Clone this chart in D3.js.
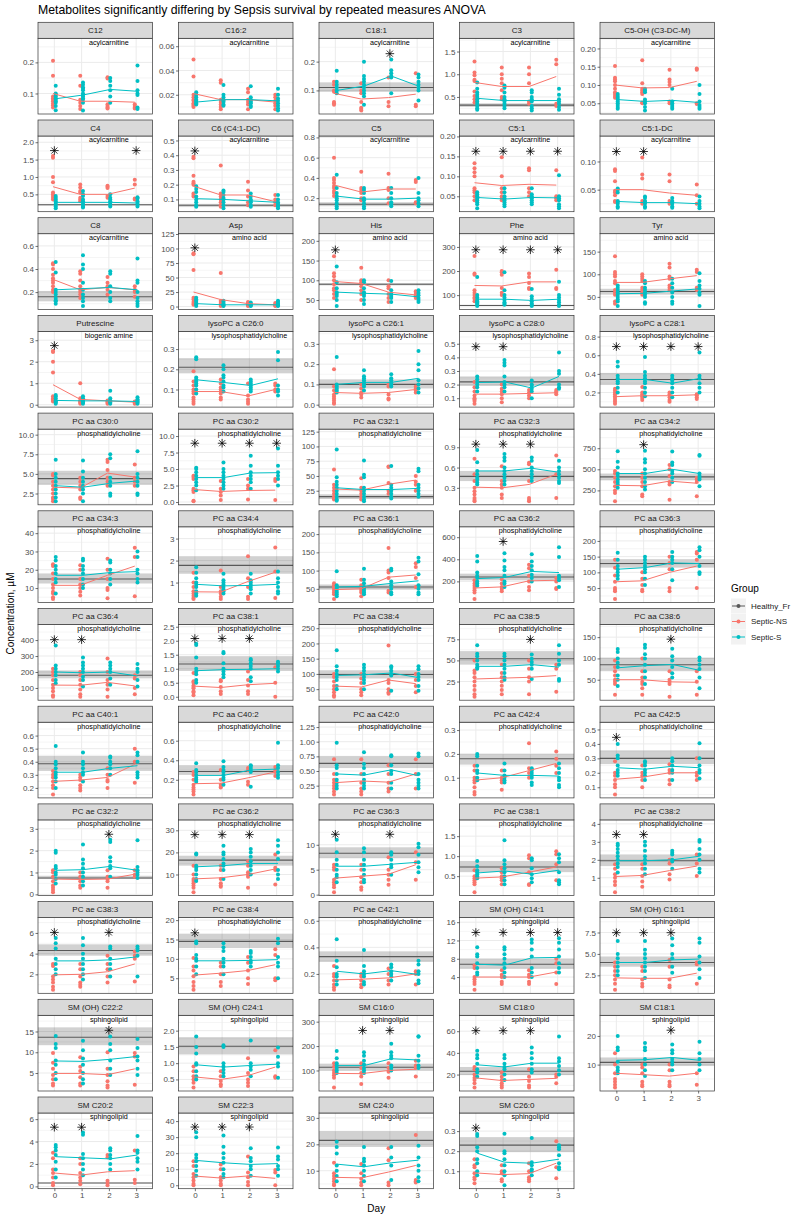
<!DOCTYPE html>
<html><head><meta charset="utf-8">
<script src="https://cdn.jsdelivr.net/npm/d3@7"></script>
<style>body{margin:0;background:#fff}svg{font-family:"Liberation Sans",Arial,Helvetica,sans-serif}</style>
</head><body>
<script>
const days = [0, 1, 2, 3];
const groups = ["Healthy_Fr", "Septic-NS", "Septic-S"];
const metabolites = ["C12","C16:2","C18:1","C3","C5-OH (C3-DC-M)","C4","C6 (C4:1-DC)","C5","C5:1","C5:1-DC","C8","Asp","His","Phe","Tyr","Putrescine","lysoPC a C26:0","lysoPC a C26:1","lysoPC a C28:0","lysoPC a C28:1","PC aa C30:0","PC aa C30:2","PC aa C32:1","PC aa C32:3","PC aa C34:2","PC aa C34:3","PC aa C34:4","PC aa C36:1","PC aa C36:2","PC aa C36:3","PC aa C36:4","PC aa C38:1","PC aa C38:4","PC aa C38:5","PC aa C38:6","PC aa C40:1","PC aa C40:2","PC aa C42:0","PC aa C42:4","PC aa C42:5","PC ae C32:2","PC ae C36:2","PC ae C36:3","PC ae C38:1","PC ae C38:2","PC ae C38:3","PC ae C38:4","PC ae C42:1","SM (OH) C14:1","SM (OH) C16:1","SM (OH) C22:2","SM (OH) C24:1","SM C16:0","SM C18:0","SM C18:1","SM C20:2","SM C22:3","SM C24:0","SM C26:0"];
const classes = ["acylcarnitine","acylcarnitine","acylcarnitine","acylcarnitine","acylcarnitine","acylcarnitine","acylcarnitine","acylcarnitine","acylcarnitine","acylcarnitine","acylcarnitine","amino acid","amino acid","amino acid","amino acid","biogenic amine","lysophosphatidylcholine","lysophosphatidylcholine","lysophosphatidylcholine","lysophosphatidylcholine","phosphatidylcholine","phosphatidylcholine","phosphatidylcholine","phosphatidylcholine","phosphatidylcholine","phosphatidylcholine","phosphatidylcholine","phosphatidylcholine","phosphatidylcholine","phosphatidylcholine","phosphatidylcholine","phosphatidylcholine","phosphatidylcholine","phosphatidylcholine","phosphatidylcholine","phosphatidylcholine","phosphatidylcholine","phosphatidylcholine","phosphatidylcholine","phosphatidylcholine","phosphatidylcholine","phosphatidylcholine","phosphatidylcholine","phosphatidylcholine","phosphatidylcholine","phosphatidylcholine","phosphatidylcholine","phosphatidylcholine","sphingolipid","sphingolipid","sphingolipid","sphingolipid","sphingolipid","sphingolipid","sphingolipid","sphingolipid","sphingolipid","sphingolipid","sphingolipid"];
const yTicks = [[0.1,0.2],[0.02,0.04,0.06],[0.1,0.2],[0.5,1.0,1.5],[0.05,0.10,0.15,0.20],
[0.5,1.0,1.5,2.0],[0.1,0.2,0.3,0.4,0.5],[0.2,0.4,0.6,0.8],[0.05,0.10,0.15,0.20],[0.05,0.10],
[0.2,0.4,0.6],[0,25,50,75,100,125],[50,100,150,200],[100,200,300],[50,100,150],
[0,1,2,3],[0.1,0.2,0.3],[0.0,0.1,0.2,0.3],[0.1,0.2,0.3,0.4,0.5],[0.2,0.4,0.6,0.8],
[2.5,5,7.5,10],[0,2.5,5,7.5,10],[25,50,75,100,125],[0.3,0.6,0.9],[250,500,750],
[10,20,30,40],[1,2,3],[50,100,150,200],[200,400,600],[50,100,150,200],
[100,200,300,400],[0,0.5,1,1.5,2,2.5],[50,100,150,200,250],[25,50,75],[50,100,150],
[0.2,0.3,0.4,0.5,0.6],[0.2,0.4,0.6],[0.25,0.5,0.75,1,1.25],[0.1,0.2,0.3],[0.1,0.2,0.3,0.4,0.5],
[0,1,2,3],[10,20,30],[0,5,10],[0.5,1,1.5],[1,2,3,4],
[2,4,6],[5,10,15,20],[0.2,0.4,0.6],[4,8,12,16],[2.5,5,7.5],
[5,10,15],[0.5,1,1.5,2],[100,200,300],[20,40,60],[10,20],
[0,2,4,6],[0,10,20,30,40],[10,20,30],[0.1,0.2,0.3]];
const healthyMean = [null,null,0.11,0.32,null, 0.2,0.06,0.14,null,null, 0.16,null,90,57,62, null,0.21,0.1,0.22,0.34,
4.4,null,15,0.47,410, 15,1.78,55,240,128, 180,1.17,98,52,85, 0.385,0.285,0.63,0.18,0.3,
0.75,16.5,8.3,0.73,1.95, 4.3,14.5,0.33,6.8,4.0, 13.6,1.52,113,23,10.8, 0.3,null,21.5,0.23];
const healthyLow = [null,null,0.095,0.28,null, 0.18,0.05,0.12,null,null, 0.12,null,87,54,55, null,0.18,0.08,0.19,0.28,
3.6,null,11,0.4,370, 12.5,1.4,48,210,115, 160,0.92,85,45,70, 0.33,0.25,0.55,0.155,0.26,
0.7,14,7.3,0.6,1.65, 3.8,12.8,0.29,5.8,3.5, 11.7,1.27,100,19.5,9.5, 0.27,null,19,0.195];
const healthyHigh = [null,null,0.128,0.36,null, 0.22,0.07,0.16,null,null, 0.21,null,93,60,68, null,0.255,0.125,0.26,0.41,
5.4,null,19,0.55,450, 18,2.2,62,270,142, 210,1.45,112,61,102, 0.445,0.35,0.75,0.2,0.355,
0.85,18.5,9.5,0.88,2.3, 4.9,16.5,0.37,8.0,4.7, 16,1.8,128,27,12.5, 0.33,null,25,0.27];
const meanNS = [[0.1,0.075,0.075,0.072],[0.021,0.016,0.016,0.014],[0.09,0.07,0.075,0.087],[0.82,0.73,0.73,0.95],[0.1,0.092,0.093,0.11],
[0.72,0.5,0.5,0.68],[0.19,0.13,0.13,0.085],[0.33,0.26,0.29,0.29],[0.084,0.077,0.08,0.078],[0.05,0.05,0.044,0.04],
[0.31,0.22,0.24,0.22],[25,12,5,3],[97,92,70,63],[140,138,155,155],[82,82,90,97],
[0.93,0.25,0.18,0.12],[0.09,0.09,0.068,0.1],[0.06,0.056,0.06,0.075],[0.13,0.13,0.135,0.14],[0.155,0.165,0.165,0.175],
[3.3,3.2,5.1,4.6],[1.9,1.6,1.75,1.8],[28,26,36,43],[0.31,0.3,0.35,0.5],[310,305,360,335],
[11.5,11.5,17,22],[0.58,0.57,1.05,1.47],[48,50,82,88],[140,150,205,210],[70,73,100,120],
[118,117,135,113],[0.38,0.33,0.43,0.48],[60,57,80,68],[28,29,30,32],[50,50,45,44],
[0.25,0.26,0.28,0.38],[0.16,0.165,0.22,0.28],[0.3,0.33,0.31,0.45],[0.09,0.1,0.13,0.16],[0.155,0.17,0.2,0.2],
[0.7,0.68,0.7,0.92],[8,8.5,10,12.5],[3.3,3.7,4.1,6.0],[0.45,0.48,0.6,0.73],[1.07,1.13,1.4,1.65],
[1.95,2.0,2.25,3.0],[5.8,6.3,7,8.5],[0.155,0.16,0.17,0.2],[4.0,4.0,4.0,5.1],[2.2,2.15,2.15,2.75],
[4.9,4.9,4.6,6.0],[0.58,0.5,0.62,0.88],[88,87,100,105],[17,14.5,15.5,16.5],[7,6.5,6,7],
[1.2,1.0,1.3,1.4],[5.8,4.5,5.8,4.3],[7.5,7.3,9.5,12],[0.092,0.083,0.088,0.14]];
const meanS = [[0.083,0.095,0.113,0.107],[0.014,0.016,0.016,0.015],[0.1,0.115,0.15,0.115],[0.47,0.42,0.42,0.42],[0.06,0.055,0.058,0.052],
[0.27,0.27,0.27,0.25],[0.105,0.1,0.09,0.08],[0.22,0.19,0.19,0.2],[0.047,0.043,0.047,0.046],[0.029,0.027,0.027,0.025],
[0.22,0.23,0.24,0.22],[5,3,3,3],[70,67,65,58],[83,83,78,83],[57,58,63,68],
[0.2,0.18,0.18,0.15],[0.148,0.135,0.12,0.153],[0.1,0.11,0.11,0.13],[0.215,0.22,0.175,0.26],[0.34,0.34,0.3,0.35],
[3.5,3.3,3.8,4.1],[3.7,3.7,4.4,4.45],[30,27,27,29],[0.55,0.55,0.59,0.53],[450,450,500,450],
[17,17,18.5,19],[0.92,0.85,0.87,0.92],[55,57,65,72],[225,235,290,280],[110,115,130,128],
[200,195,200,175],[0.93,0.97,0.98,1.0],[95,97,103,88],[43,43,45,42],[78,83,86,72],
[0.32,0.32,0.35,0.37],[0.245,0.245,0.3,0.31],[0.45,0.43,0.52,0.42],[0.12,0.11,0.11,0.107],[0.235,0.225,0.245,0.235],
[1.1,1.13,1.28,1.1],[13.5,14,15,15],[5.7,5.7,6.1,6.5],[0.58,0.63,0.55,0.65],[1.95,1.95,2.0,2.2],
[3.3,3.3,3.4,3.7],[9.5,9.5,9.6,9.8],[0.22,0.2,0.225,0.195],[6.8,6.6,8.2,8.3],[4.0,4.0,4.3,4.4],
[7.9,7.8,8.3,9.0],[0.95,0.88,0.93,0.97],[120,120,148,143],[29,27,30.5,30.5],[11.5,11.7,12.5,11.5],
[2.65,2.55,2.45,2.8],[15.5,14,13,13.5],[12.5,11.5,13,14],[0.19,0.145,0.14,0.16]];
const starDays = [[],[],[2],[],[], [0,3],[0],[],[0,1,2,3],[0,1], [],[0],[0],[0,1,2,3],[], [0],[],[],[0,1],[0,1,2,3],
[],[0,1,2,3],[],[0,1,2],[1], [],[],[],[1],[], [0,1],[0,1,2],[],[2],[2], [],[],[],[],[0],
[2],[0,1,2],[0,2],[],[0,1], [0,2],[0],[],[0,1,2,3],[0,1,2], [2],[],[1,2],[0,1,2],[2], [0,1],[0,1,2],[],[0]];
const pointsNS = [
[[0.205,0.157,0.09,0.085,0.08,0.075,0.068,0.062,0.055],[0.157,0.125,0.08,0.07,0.06,0.05],[0.152,0.148,0.065,0.06,0.055,0.052],[0.065,0.06,0.055,0.052]],
[[0.049,0.035,0.02,0.018,0.016,0.015,0.013,0.012,0.011,0.01],[0.032,0.03,0.016,0.014,0.012,0.01,0.008],[0.025,0.022,0.016,0.014,0.012,0.008],[0.02,0.018,0.015,0.013,0.011,0.008]],
[[0.13,0.12,0.1,0.095,0.06,0.055,0.05],[0.125,0.1,0.09,0.06,0.04,0.035,0.03],[0.145,0.06,0.045],[0.16,0.05,0.045]],
[[1.28,1.04,0.98,0.88,0.85,0.62,0.52,0.45,0.38],[1.15,1.0,0.9,0.8,0.65,0.5,0.45],[1.15,1.0,0.8,0.4,0.35],[1.32,1.22,0.35,0.3]],
[[0.152,0.12,0.115,0.11,0.1,0.09,0.08,0.075,0.07,0.065],[0.168,0.105,0.09,0.085,0.08,0.075,0.052,0.05],[0.142,0.115,0.108,0.1,0.055,0.05],[0.145,0.142,0.05,0.048]],
[[1.6,1.55,1.0,0.85,0.55,0.5,0.45,0.4,0.35],[0.78,0.7,0.6,0.55,0.4,0.35,0.3],[0.75,0.72,0.68,0.45,0.4],[0.92,0.78,0.38,0.35]],
[[0.39,0.38,0.26,0.22,0.21,0.2,0.14,0.13,0.12],[0.33,0.14,0.12,0.1,0.08,0.06,0.05],[0.22,0.16,0.12,0.08,0.06],[0.13,0.1,0.08,0.06]],
[[0.6,0.4,0.38,0.35,0.32,0.3,0.27,0.25,0.22],[0.46,0.3,0.28,0.25,0.2,0.18],[0.44,0.3,0.28,0.2,0.15],[0.38,0.36,0.16,0.15]],
[[0.133,0.12,0.11,0.1,0.07,0.065,0.06,0.05,0.04],[0.148,0.1,0.07,0.06,0.05,0.045,0.04],[0.12,0.115,0.07,0.06,0.05],[0.115,0.05,0.045,0.04]],
[[0.086,0.083,0.065,0.048,0.045,0.04,0.03,0.028],[0.107,0.077,0.07,0.03,0.025],[0.077,0.065,0.03,0.025],[0.059,0.04,0.025]],
[[0.45,0.44,0.4,0.35,0.32,0.3,0.28,0.25,0.22,0.2],[0.38,0.36,0.3,0.25,0.22,0.2,0.18,0.15],[0.33,0.28,0.25,0.22,0.18],[0.25,0.22,0.2,0.16]],
[[92,90,63,15,12,8,5,3],[58,10,8,5,3,1],[8,6,4,2,1],[6,4,2,1]],
[[161,118,110,100,90,80,75,65,55],[132,100,95,85,75,65,50],[100,85,80,65,55,45],[72,68,62,58,55]],
[[262,190,185,120,110,100,90,85,75],[200,195,185,130,110,100],[190,175,150,130,125],[205,130,125]],
[[140,105,100,95,85,80,65,60,55,40,35],[100,95,90,85,70,65,60,55],[123,115,95,90,75,70,65],[110,105,70,65]],
[[2.5,2.45,2.0,1.5,0.4,0.3,0.25,0.2,0.15],[1.0,0.3,0.2,0.15,0.1,0.05],[0.2,0.15,0.1,0.05],[0.15,0.1,0.08,0.05]],
[[0.19,0.14,0.12,0.1,0.09,0.08,0.06,0.05,0.04,0.03],[0.15,0.13,0.11,0.1,0.09,0.08,0.06,0.05],[0.13,0.07,0.05,0.04,0.03],[0.13,0.12,0.1,0.09]],
[[0.175,0.09,0.07,0.05,0.04,0.03,0.02,0.01,0.005],[0.1,0.08,0.06,0.05,0.035],[0.1,0.09,0.05,0.03,0.025],[0.09,0.08,0.07,0.06]],
[[0.22,0.18,0.15,0.12,0.1,0.09,0.08,0.06],[0.2,0.17,0.15,0.13,0.1,0.07],[0.16,0.14,0.12,0.1],[0.16,0.15,0.14,0.13]],
[[0.24,0.22,0.2,0.18,0.16,0.14,0.12,0.1,0.08],[0.26,0.2,0.18,0.16,0.14,0.12],[0.2,0.18,0.15,0.12,0.1],[0.18,0.17,0.15,0.13]],
[[5.0,4.8,4.0,3.5,3.0,2.5,2.0,1.8,1.5],[4.5,4.0,3.5,3.0,2.0,1.8],[6.8,6.5,5.5,4.5,4.0,3.5],[6.2,4.5,4.0,3.5]],
[[4.0,3.8,3.5,2.0,1.8,1.5,0.2,0.1],[3.2,2.0,1.5,1.0,0.3],[3.5,2.5,2.0,0.4],[3.5,3.2,0.3]],
[[61,35,30,25,20,15,12,10],[46,30,25,20,15,10],[66,65,38,25,20],[50,40,35,25]],
[[0.73,0.5,0.4,0.3,0.25,0.2,0.15,0.12,0.1],[0.62,0.4,0.35,0.3,0.2,0.15],[0.67,0.65,0.4,0.15,0.12,0.1],[0.78,0.5,0.15]],
[[480,450,400,350,300,250,220,120],[450,400,350,300,200,180],[550,500,420,350,320,140],[400,380,350,180]],
[[23,22,18,15,12,10,8,7,5,4],[22.5,20,15,12,10,8,6],[26,20,15,10,9,4.5],[32,27,5.5]],
[[1.45,1.0,0.8,0.6,0.5,0.4,0.3,0.25],[1.55,0.8,0.6,0.5,0.35,0.25],[2.2,1.2,0.8,0.35,0.25],[2.6,1.5,0.3]],
[[65,60,55,50,45,40,35,22],[75,60,50,45,40,30],[162,100,95,80,45,40],[120,110,80,55]],
[[210,180,160,140,120,100,40],[220,180,150,130,110],[350,320,250,200,150,120],[230,200,140,130]],
[[140,115,90,70,50,45,40,15],[100,80,60,45,40],[150,130,110,50,40],[165,160,140,50]],
[[220,200,180,150,120,100,80,55,45],[200,180,150,120,90,60,45],[285,200,150,120,90,45],[180,160,100,60]],
[[0.85,0.55,0.5,0.4,0.35,0.3,0.2,0.15,0.05],[0.6,0.55,0.35,0.2,0.1],[0.9,0.6,0.4,0.2,0.1],[1.05,0.5,0.0]],
[[100,90,75,60,50,40,30,25],[100,85,70,50,40,30],[193,80,70,50,40,35],[100,80,60,40]],
[[50,38,35,30,25,20,15,10,7],[45,35,30,25,20,15,10],[50,40,30,25,10],[45,40,13]],
[[95,80,70,60,50,45,40,15],[100,70,55,45,40,30,15],[70,50,45,40,10],[70,45,15]],
[[0.33,0.3,0.28,0.25,0.22,0.2,0.15],[0.3,0.28,0.26,0.22,0.2,0.18],[0.35,0.3,0.26,0.25,0.2],[0.5,0.4,0.24]],
[[0.28,0.25,0.2,0.15,0.12,0.1,0.08,0.05],[0.3,0.2,0.15,0.13,0.12],[0.32,0.3,0.18,0.15],[0.33,0.3,0.28,0.24]],
[[0.7,0.45,0.35,0.3,0.25,0.2,0.15,0.1],[0.7,0.45,0.3,0.2,0.15,0.1],[0.6,0.45,0.3,0.2,0.15],[0.7,0.45,0.2]],
[[0.15,0.13,0.1,0.09,0.08,0.06,0.04,0.03],[0.13,0.1,0.09,0.08,0.05],[0.245,0.14,0.12,0.1],[0.21,0.18,0.15,0.12]],
[[0.28,0.2,0.18,0.15,0.12,0.1,0.05],[0.25,0.2,0.18,0.15,0.1],[0.26,0.22,0.2,0.15,0.12],[0.3,0.2,0.18,0.15]],
[[1.1,1.0,0.8,0.6,0.4,0.3,0.2,0.1],[1.0,0.8,0.6,0.4,0.3],[1.1,0.8,0.7,0.6,0.3],[1.1,0.9,0.8]],
[[14,10,8,7,6,5,4,2],[14,12,8,6,5,4.5],[16,14,11,10,9,4],[19,13,12,5.5]],
[[6.0,5.5,5.0,3.0,2.5,2.0,1.5,0.5],[6.0,5.0,3.5,2.5,1.5,1.0],[7.5,5.0,4.0,3.0,2.0],[8.5,6.5,3.0]],
[[0.65,0.5,0.45,0.4,0.35,0.3,0.1],[0.7,0.6,0.5,0.45,0.4,0.3],[1.02,0.95,0.6,0.3,0.28],[1.12,1.05,0.8,0.4]],
[[1.75,1.5,1.2,1.0,0.8,0.6,0.2],[1.75,1.5,1.1,0.8,0.5],[2.0,1.8,1.2,0.9],[2.3,1.8,1.1]],
[[3.0,2.8,1.8,1.5,1.2,0.8,0.5],[3.0,2.5,1.8,1.2,1.0,0.8],[3.8,3.0,2.5,1.8,1.2],[4.2,3.8,3.5,1.3]],
[[10.2,8,7,5.5,4,3,2],[9,8,6,4,3],[10.5,9,7,5,3.5],[12.5,11,5,4.5]],
[[0.26,0.2,0.18,0.15,0.12,0.1,0.08],[0.2,0.18,0.15,0.12,0.1],[0.24,0.2,0.15,0.12],[0.22,0.2,0.12]],
[[6.5,6,4,3.5,3,2.5,1.2],[5.5,4.5,4,3,2.5],[5.5,4.5,4,3,2.5],[8,7,5,2.5]],
[[4,3.5,3,2.5,2,1.5,0.8],[3.5,3,2,1.5,1.2],[4.3,3.5,2,1.3,1.1],[4,3.8,1.5]],
[[9.8,7.5,6,4.5,3.5,2.5,2],[8.8,6.5,5.5,4,2.5,2],[10,6,4.5,3,2,1.5],[9.8,9,2.2]],
[[0.9,0.75,0.6,0.5,0.4,0.25],[0.75,0.6,0.45,0.35,0.3],[1.15,0.7,0.5,0.4,0.3],[1.4,0.6,0.55]],
[[130,115,100,90,80,70,30],[130,110,90,75,45],[130,110,95,70],[140,120,110,75]],
[[27,25,20,17,15,12,8],[22,18,15,12,10,8],[25,18,14,10,8],[20,18,12]],
[[14,10,7,5,4,3,2],[10,9,7,4,3,2.5],[10,8,4,3,2.5],[7,3]],
[[3.0,2.5,1.5,1.2,0.8,0.3,0.1],[2.5,2.0,1.2,0.8,0.5,0.2],[2.8,2.6,0.5,0.3,0.1],[3.2,0.6,0.3]],
[[15,12,7,5,3,1,0],[13,10,5,3,1,0],[18,8,5,2,0],[9.5,8,0]],
[[13,9,8,7,6,5,4.5],[12.5,9,7,5.5,4.5],[18.5,14,5.5,4.5],[23.5,6.5,6,5.5]],
[[0.16,0.13,0.12,0.09,0.07,0.06,0.04],[0.13,0.1,0.09,0.06,0.05],[0.14,0.1,0.07,0.06,0.05],[0.25,0.12,0.065]]];
const pointsS = [
[[0.125,0.1,0.095,0.09,0.085,0.08,0.075,0.07,0.06,0.046],[0.135,0.128,0.12,0.115,0.11,0.1,0.095,0.09,0.085,0.08,0.07,0.045],[0.15,0.14,0.125,0.11,0.09,0.07],[0.19,0.14,0.11,0.1,0.095,0.055,0.05]],
[[0.022,0.02,0.018,0.016,0.015,0.014,0.013,0.012],[0.028,0.02,0.018,0.016,0.015,0.014,0.012,0.011],[0.027,0.018,0.016,0.015,0.014,0.013,0.011,0.01],[0.025,0.02,0.017,0.015,0.013,0.011,0.009,0.007]],
[[0.168,0.13,0.12,0.11,0.1,0.09],[0.2,0.15,0.14,0.13,0.12,0.11,0.1,0.09,0.08,0.05],[0.207,0.17,0.16,0.15,0.145,0.09],[0.155,0.145,0.13,0.12,0.11,0.1,0.065]],
[[0.82,0.68,0.6,0.55,0.5,0.45,0.4,0.35,0.3,0.25,0.22],[0.75,0.7,0.6,0.5,0.45,0.4,0.35,0.3,0.25],[0.65,0.6,0.5,0.45,0.4,0.3,0.25,0.2],[0.68,0.55,0.45,0.4,0.35,0.28,0.22]],
[[0.075,0.07,0.065,0.06,0.055,0.05,0.045,0.04,0.035],[0.09,0.085,0.08,0.06,0.055,0.05,0.04,0.03],[0.09,0.055,0.05,0.045,0.04,0.035],[0.1,0.075,0.055,0.045,0.04,0.035]],
[[0.45,0.4,0.35,0.3,0.25,0.2,0.15,0.1],[0.6,0.5,0.45,0.35,0.3,0.25,0.2,0.15,0.12],[0.5,0.4,0.35,0.3,0.25,0.2,0.15],[0.42,0.38,0.3,0.25,0.2,0.15]],
[[0.19,0.17,0.15,0.12,0.1,0.08,0.06,0.05],[0.16,0.15,0.13,0.11,0.1,0.08,0.06,0.04],[0.14,0.12,0.1,0.09,0.08,0.06,0.05],[0.13,0.1,0.08,0.07,0.06,0.05,0.04]],
[[0.43,0.3,0.25,0.22,0.2,0.18,0.15,0.12,0.1],[0.3,0.28,0.25,0.2,0.18,0.15,0.12,0.1],[0.3,0.25,0.2,0.16,0.14,0.12],[0.4,0.25,0.2,0.18,0.15,0.12]],
[[0.06,0.055,0.05,0.045,0.04,0.035,0.03,0.02],[0.07,0.06,0.05,0.045,0.04,0.035,0.03,0.025],[0.07,0.055,0.05,0.045,0.04,0.035,0.03],[0.103,0.05,0.045,0.04,0.03,0.025,0.02]],
[[0.052,0.05,0.045,0.03,0.028,0.025,0.02,0.018],[0.038,0.035,0.03,0.028,0.025,0.02,0.018],[0.035,0.03,0.028,0.025,0.02,0.018],[0.038,0.03,0.025,0.02,0.017]],
[[0.46,0.37,0.22,0.2,0.18,0.15,0.13,0.12,0.1],[0.52,0.44,0.4,0.28,0.22,0.18,0.15,0.12,0.08],[0.38,0.36,0.25,0.2,0.15,0.12],[0.49,0.3,0.28,0.2,0.15,0.12,0.1,0.08]],
[[15,12,10,8,5,3,1],[10,8,5,3,2,1],[7,5,3,2,1],[10,8,5,3,2,1]],
[[135,95,80,70,65,60,50,35],[100,95,80,70,65,60,50,40],[98,75,65,60,55,45],[75,68,62,55,50,45]],
[[175,100,90,80,75,70,65,60,55],[195,120,100,90,80,70,65,60],[125,95,85,75,65,60,55],[155,100,90,80,70,60,55]],
[[75,70,65,60,55,50,45,40,30],[85,80,70,65,60,55,50,38,35],[90,80,70,60,50,40,35],[102,85,75,68,60,55,30]],
[[0.45,0.4,0.3,0.2,0.15,0.1,0.05],[0.4,0.3,0.2,0.15,0.1,0.05],[0.65,0.3,0.2,0.15,0.1,0.05],[0.35,0.25,0.2,0.15,0.1,0.05]],
[[0.26,0.25,0.16,0.15,0.14,0.13,0.12,0.1,0.08],[0.22,0.2,0.17,0.16,0.14,0.12,0.11,0.09],[0.15,0.14,0.13,0.12,0.11,0.1,0.09],[0.285,0.245,0.12,0.1,0.09,0.07]],
[[0.235,0.1,0.09,0.08,0.07,0.06],[0.17,0.14,0.13,0.12,0.11,0.1,0.09,0.07],[0.15,0.13,0.12,0.11,0.1,0.09],[0.265,0.2,0.17,0.12,0.1,0.08,0.06]],
[[0.26,0.24,0.22,0.2,0.18,0.15],[0.38,0.36,0.34,0.26,0.22,0.2,0.18,0.15],[0.23,0.2,0.19,0.17,0.15,0.1],[0.435,0.3,0.28,0.2,0.18,0.17]],
[[0.53,0.48,0.38,0.35,0.32,0.3,0.25,0.2],[0.58,0.42,0.38,0.35,0.32,0.3,0.25,0.2,0.16],[0.38,0.35,0.33,0.3,0.25,0.2,0.15],[0.63,0.38,0.35,0.3,0.25,0.2]],
[[6.8,5.0,4.5,4.0,3.5,3.0,2.5,2.0,1.5],[6.7,5.3,4.5,4.0,3.5,3.0,2.5,1.5],[7.5,7.0,4.5,4.0,3.5,2.5,2.2],[7.9,5.0,4.5,4.0,3.5,2.5,2.3]],
[[5.2,5.0,4.5,4.0,3.5,3.0,2.5,1.8],[6.0,5.0,4.5,4.0,3.5,3.0,2.5,2.0],[7.0,5.5,4.5,4.0,3.5,3.0,2.0],[8.1,5.5,4.5,4.0,3.5,2.5]],
[[95,48,40,35,30,25,20,15,10,8],[76,52,48,30,25,20,15,10,7],[67,35,30,25,20,15,12],[62,58,35,30,25,20,15]],
[[0.86,0.68,0.55,0.5,0.45,0.42,0.38,0.35],[0.8,0.75,0.7,0.6,0.55,0.5,0.45,0.4,0.35],[0.75,0.7,0.6,0.55,0.5,0.45,0.4],[0.7,0.6,0.55,0.5,0.45,0.4,0.37]],
[[715,590,520,450,420,380,350,320,280],[720,620,580,500,450,400,350,300,260],[710,580,550,480,450,400,350],[670,660,450,420,400,380,300]],
[[27,25,22,20,18,15,13,7],[26,25,22,20,18,15,12,10],[25,24,20,18,15,12],[30,27,20,18,15,13]],
[[1.7,1.45,1.2,1.0,0.9,0.8,0.6,0.5,0.4],[1.4,1.1,1.0,0.9,0.8,0.7,0.6,0.5],[1.4,1.1,1.0,0.9,0.8,0.7,0.5],[1.5,1.2,1.0,0.8,0.6,0.5]],
[[98,60,55,50,45,40,35,30],[105,75,65,55,50,45,40,35],[105,100,70,60,50,40,35],[135,125,90,60,50,40,35]],
[[430,380,280,250,230,200,180,160],[455,390,330,300,250,200,180,150],[445,380,340,300,260,230,200],[510,420,250,230,210,150]],
[[162,140,120,110,100,90,80],[150,140,130,120,110,100,80,60],[165,150,140,130,110,75],[180,170,150,120,100,95]],
[[366,240,220,200,180,150,130],[290,260,240,220,200,170,150,110],[260,240,220,200,160,120],[250,220,200,150,110]],
[[1.89,1.85,1.4,1.0,0.9,0.8,0.6,0.5],[1.6,1.55,1.2,1.0,0.9,0.8,0.7],[1.35,1.3,1.2,1.1,1.0,0.7,0.55],[1.25,1.2,1.1,1.0,0.9]],
[[178,125,110,100,90,80,60,50],[130,120,110,100,90,80,70,50],[125,120,110,100,95,45],[125,115,100,90,80,60,45]],
[[68,58,55,50,45,42,40],[58,55,50,45,40,35,30,27],[57,52,48,45,40,28],[68,58,50,45,28,26]],
[[122,115,100,90,80,60,50,35],[132,125,110,100,85,70,55,40],[123,105,95,80,65,55],[102,95,85,75,55,30]],
[[0.52,0.4,0.38,0.35,0.32,0.3,0.28,0.25,0.2],[0.47,0.4,0.38,0.35,0.32,0.3,0.25],[0.44,0.43,0.4,0.38,0.35,0.3],[0.47,0.45,0.4,0.32,0.3,0.28]],
[[0.37,0.3,0.28,0.25,0.22,0.2,0.18],[0.39,0.33,0.3,0.28,0.25,0.22,0.2,0.15],[0.35,0.34,0.32,0.3,0.28,0.13],[0.58,0.35,0.32,0.28,0.25,0.22]],
[[0.98,0.6,0.55,0.45,0.35,0.3,0.25,0.2],[0.82,0.62,0.55,0.45,0.35,0.3,0.25,0.2],[0.77,0.75,0.6,0.5,0.45,0.3,0.2],[0.8,0.75,0.45,0.35,0.3,0.25,0.2]],
[[0.2,0.19,0.15,0.13,0.12,0.1,0.09],[0.16,0.13,0.11,0.1,0.09,0.08],[0.14,0.13,0.12,0.11,0.1,0.08,0.07],[0.16,0.14,0.12,0.1,0.09,0.07,0.06]],
[[0.4,0.32,0.3,0.25,0.22,0.2,0.18],[0.28,0.27,0.25,0.22,0.2,0.18,0.15],[0.3,0.28,0.25,0.22,0.2,0.15],[0.405,0.3,0.25,0.22,0.2,0.16]],
[[2.0,1.9,1.3,1.2,1.0,0.9,0.7,0.5],[2.28,1.6,1.4,1.2,1.0,0.8,0.6,0.4],[2.5,2.4,1.7,1.5,1.3,1.2,0.8],[2.48,1.25,1.1,1.0,0.9,0.75]],
[[19.5,19,14,13,12,10,8,7],[23,20,19,17,15,14,12,8],[21.5,20,18,16,14,12,10],[25.5,23,20,17,12,10,8]],
[[11.0,8.5,7.0,6.0,5.0,4.0,3.5,2.5],[9.3,8.5,7.0,6.0,5.0,4.0,3.0,2.5],[8.5,8.0,7.0,6.0,5.5,4.0],[10.2,9.5,8.0,6.5,5.5,4.5]],
[[0.88,0.75,0.65,0.6,0.55,0.5,0.45],[1.4,0.9,0.8,0.7,0.6,0.5,0.4,0.3],[0.95,0.9,0.7,0.55,0.45,0.35],[1.05,0.95,0.85,0.6,0.4,0.35,0.3]],
[[2.9,2.8,2.6,2.4,2.2,2.0,1.8,1.6,1.3],[3.0,2.8,2.5,2.2,2.0,1.8,1.5,1.2],[2.5,2.4,2.3,2.0,1.9,1.5],[3.1,3.0,2.6,2.3,2.0,1.5,1.3]],
[[5.5,5.0,4.5,3.5,3.0,2.5,2.0],[5.5,4.8,4.0,3.5,3.0,2.5,2.0,1.5],[4.7,4.5,3.5,3.0,2.5,1.8],[4.7,4.5,4.3,3.8,1.8]],
[[14.5,14,11,10,9.5,8,6],[14,13,12,10,9,8,6],[12,11.5,10.5,9.5,9,8],[15.2,14,10.5,9,8,5]],
[[0.46,0.3,0.25,0.2,0.18,0.15,0.12],[0.38,0.26,0.22,0.2,0.18,0.14,0.12],[0.27,0.25,0.22,0.2,0.18,0.15],[0.3,0.27,0.22,0.2,0.15,0.13]],
[[10.5,9,8.5,7,6,5,4.5],[10.5,10,9,8,7,6,5,4],[12.2,11.5,10,8.5,6,5,4],[12.5,11.5,10,8.5,7,6,5]],
[[6.5,5,4.5,4,3.5,3,2.5],[6.5,5.5,5,4.5,4,3.5,3,2.2],[6.8,6,5,4.5,3.5,2.8],[6.8,6.3,4.7,4,3.2,2.2]],
[[13.9,12,11,8,7,5,3.5],[12.8,10.5,8.5,7,5,3.5,2.5],[13.8,12,10.5,8,6,4.5],[13.2,11,9,8,6,4.5]],
[[1.82,1.5,1.3,1.0,0.95,0.75,0.6,0.5],[1.55,1.5,1.0,0.9,0.8,0.7,0.6],[1.7,1.0,0.9,0.8,0.6],[1.48,1.2,1.0,0.9,0.55]],
[[180,150,130,120,110,100,90],[175,160,140,125,110,100,90],[210,175,160,150,120,110,100],[240,238,160,140,120,110]],
[[42,38,35,30,25,22,18],[38,35,30,27,25,20,15],[45,40,35,30,25,22],[55,35,32,28,24,20]],
[[20,16,15,11,9,8,7],[17.5,16,15,12,10,8,6],[17,15,14,12,11,10,8],[18,14,12,10,8]],
[[3.7,3.5,3.2,2.8,2.2,1.5,0.8],[4.8,4.6,2.9,2.5,2.0,1.5,1.0],[3.4,3.2,2.8,2.5,2.0,1.5],[4.5,3.2,3.0,2.5,2.2,1.5]],
[[33,30,19,17,15,12,9,6],[31,24,20,17,14,10,7,5],[23,17,15,12,10,6],[23.5,18,16,12,10,6]],
[[21,19,16.5,12,10,8,6],[19,14.5,13.5,12,10,8,6],[19,15,12,6.5],[19.5,15,12,10,7.5,6]],
[[0.285,0.275,0.22,0.2,0.16,0.14,0.1,0.08],[0.287,0.2,0.19,0.16,0.13,0.1,0.08,0.03],[0.265,0.145,0.13,0.11,0.1,0.08],[0.23,0.22,0.21,0.18,0.14,0.12,0.11]]];

// ---------------- drawing ----------------
const colNS = "#F8766D", colS = "#00BFC4", colH = "#595959";
const groupColor = {"Healthy_Fr": colH, "Septic-NS": colNS, "Septic-S": colS};
const FONT = '"Liberation Sans", Arial, Helvetica, sans-serif';
const L = {x0: 38, pitchX: 140.5, pw: 114.5, y0: 22.3, pitchY: 97.7, stripH: 16, ph: 75.7};
const dodge = 0.05;

const svg = d3.select("body").append("svg").attr("width", 800).attr("height", 1220);
svg.append("rect").attr("width", 800).attr("height", 1220).attr("fill", "#fff");
const defs = svg.append("defs");

function decimalsOf(arr) {
  let d = 0;
  arr.forEach(v => { let k = 0; while (k < 4 && Math.abs(Math.round(v * Math.pow(10, k)) - v * Math.pow(10, k)) > 1e-7) k++; d = Math.max(d, k); });
  return d;
}
function starPath(cx, cy, r) {
  const a = r * Math.SQRT1_2;
  return `M${cx - r},${cy}L${cx + r},${cy}M${cx},${cy - r}L${cx},${cy + r}M${cx - a},${cy - a}L${cx + a},${cy + a}M${cx - a},${cy + a}L${cx + a},${cy - a}`;
}
const nRows = Math.ceil(metabolites.length / 5);
function isBottom(i) { return i + 5 >= metabolites.length; }

metabolites.forEach((name, i) => {
  const col = i % 5, row = Math.floor(i / 5);
  const px = L.x0 + col * L.pitchX;
  const sy = L.y0 + row * L.pitchY;
  const py = sy + L.stripH;
  const allVals = pointsNS[i].flat().concat(pointsS[i].flat());
  const vmax = d3.max(allVals), vmin = d3.min(allVals);
  const labelY = vmax * 1.3, starY = vmax * 1.1;
  const span = labelY - vmin;
  const y = d3.scaleLinear().domain([vmin - 0.05 * span, labelY + 0.05 * span]).range([py + L.ph, py]);
  const x = d3.scaleLinear().domain([-0.6, 3.6]).range([px, px + L.pw]);
  const g = svg.append("g");
  const clipId = "clip" + i;
  defs.append("clipPath").attr("id", clipId).append("rect").attr("x", px).attr("y", py).attr("width", L.pw).attr("height", L.ph);
  g.append("rect").attr("x", px).attr("y", py).attr("width", L.pw).attr("height", L.ph).attr("fill", "#fff");
  const grid = g.append("g").attr("clip-path", `url(#${clipId})`);
  const ticks = yTicks[i];
  const [d0, d1] = y.domain();
  const step = ticks[1] - ticks[0];
  const minors = [];
  for (let v = ticks[0] - step / 2; v <= d1; v += step) if (v >= d0) minors.push(v);
  minors.forEach(v => grid.append("line").attr("x1", px).attr("x2", px + L.pw).attr("y1", y(v)).attr("y2", y(v)).attr("stroke", "#EBEBEB").attr("stroke-width", 0.5));
  ticks.forEach(v => grid.append("line").attr("x1", px).attr("x2", px + L.pw).attr("y1", y(v)).attr("y2", y(v)).attr("stroke", "#EBEBEB").attr("stroke-width", 1));
  days.forEach(dd => grid.append("line").attr("x1", x(dd)).attr("x2", x(dd)).attr("y1", py).attr("y2", py + L.ph).attr("stroke", "#EBEBEB").attr("stroke-width", 1));
  const data = g.append("g").attr("clip-path", `url(#${clipId})`);
  if (healthyMean[i] !== null) {
    data.append("rect").attr("x", px).attr("width", L.pw)
      .attr("y", y(healthyHigh[i])).attr("height", y(healthyLow[i]) - y(healthyHigh[i]))
      .attr("fill", "#000").attr("fill-opacity", 0.18);
    data.append("line").attr("x1", px).attr("x2", px + L.pw).attr("y1", y(healthyMean[i])).attr("y2", y(healthyMean[i]))
      .attr("stroke", colH).attr("stroke-width", 1.1);
  }
  [[pointsNS, colNS, -dodge], [pointsS, colS, dodge]].forEach(([pts, c, off]) => {
    pts[i].forEach((vals, di) => {
      vals.forEach(v => data.append("circle").attr("cx", x(days[di] + off)).attr("cy", y(v)).attr("r", 2).attr("fill", c));
    });
  });
  const line = d3.line().x(d => x(d[0])).y(d => y(d[1]));
  [[meanNS, colNS, -dodge], [meanS, colS, dodge]].forEach(([m, c, off]) => {
    data.append("path").attr("d", line(m[i].map((v, di) => [days[di] + off, v]))).attr("fill", "none").attr("stroke", c).attr("stroke-width", 1);
  });
  starDays[i].forEach(dd => g.append("path").attr("d", starPath(x(dd), y(starY), 4.3)).attr("stroke", "#000").attr("stroke-width", 0.8).attr("fill", "none"));
  g.append("text").attr("x", x(2)).attr("y", y(labelY) + 0.5).attr("text-anchor", "middle").attr("dominant-baseline", "central")
    .attr("font-size", 7.2).attr("font-family", FONT).attr("fill", "#000").text(classes[i]);
  g.append("rect").attr("x", px).attr("y", py).attr("width", L.pw).attr("height", L.ph).attr("fill", "none").attr("stroke", "#333").attr("stroke-width", 0.7);
  g.append("rect").attr("x", px).attr("y", sy).attr("width", L.pw).attr("height", L.stripH).attr("fill", "#D9D9D9").attr("stroke", "#333").attr("stroke-width", 0.7);
  g.append("text").attr("x", px + L.pw / 2).attr("y", sy + L.stripH / 2).attr("text-anchor", "middle").attr("dominant-baseline", "central")
    .attr("font-size", 8).attr("font-family", FONT).attr("fill", "#1A1A1A").text(name);
  const dec = decimalsOf(ticks);
  const yAxis = d3.axisLeft(y).tickValues(ticks.filter(v => v >= d0 && v <= d1)).tickSizeInner(2.5).tickSizeOuter(0).tickPadding(1.5)
    .tickFormat(v => v.toFixed(dec));
  const ya = g.append("g").attr("transform", `translate(${px},0)`).call(yAxis);
  ya.select(".domain").remove();
  ya.selectAll("line").attr("stroke", "#333").attr("stroke-width", 0.7);
  ya.selectAll("text").attr("font-size", 8).attr("font-family", FONT).attr("fill", "#4D4D4D");
  if (isBottom(i)) {
    const xAxis = d3.axisBottom(x).tickValues(days).tickSizeInner(2.5).tickSizeOuter(0).tickPadding(1.5).tickFormat(d3.format("d"));
    const xa = g.append("g").attr("transform", `translate(0,${py + L.ph})`).call(xAxis);
    xa.select(".domain").remove();
    xa.selectAll("line").attr("stroke", "#333").attr("stroke-width", 0.7);
    xa.selectAll("text").attr("font-size", 8).attr("font-family", FONT).attr("fill", "#4D4D4D");
  }
});

svg.append("text").attr("x", 38).attr("y", 13.5).attr("font-size", 12.25).attr("font-family", FONT).attr("fill", "#000")
  .text("Metabolites significantly differing by Sepsis survival by repeated measures ANOVA");
const panelsBottom = L.y0 + (nRows - 1) * L.pitchY + L.stripH + L.ph;
svg.append("text").attr("x", L.x0 + (4 * L.pitchX + L.pw) / 2).attr("y", 1212).attr("text-anchor", "middle")
  .attr("font-size", 10).attr("font-family", FONT).attr("fill", "#000").text("Day");
const midY = (L.y0 + L.stripH + panelsBottom) / 2;
svg.append("text").attr("transform", `translate(13.5,${midY}) rotate(-90)`).attr("text-anchor", "middle")
  .attr("font-size", 10).attr("font-family", FONT).attr("fill", "#000").text("Concentration, µM");

const lg = svg.append("g");
lg.append("text").attr("x", 731).attr("y", 591.5).attr("font-size", 10).attr("font-family", FONT).attr("fill", "#000").text("Group");
groups.forEach((gname, k) => {
  const cy = 606 + k * 15.5;
  lg.append("rect").attr("x", 731).attr("y", cy - 7.5).attr("width", 15).attr("height", 15).attr("fill", "#F2F2F2");
  lg.append("line").attr("x1", 732).attr("x2", 745).attr("y1", cy).attr("y2", cy).attr("stroke", groupColor[gname]).attr("stroke-width", 1);
  lg.append("circle").attr("cx", 738.5).attr("cy", cy).attr("r", 2).attr("fill", groupColor[gname]);
  lg.append("text").attr("x", 751).attr("y", cy).attr("dominant-baseline", "central").attr("font-size", 8).attr("font-family", FONT).attr("fill", "#1A1A1A").text(gname);
});
</script>
</body></html>
